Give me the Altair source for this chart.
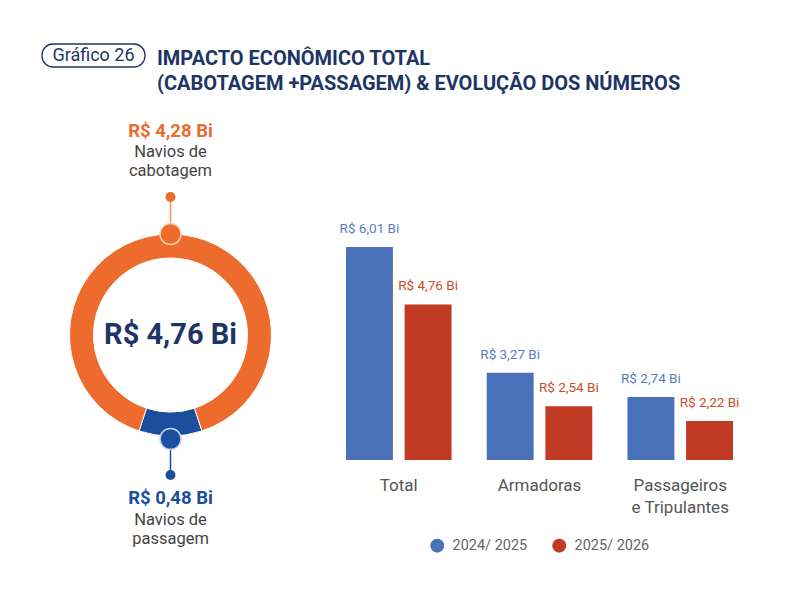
import math
import altair as alt
import pandas as pd

# ---------------- data ----------------
badge_text = ["Gráfico 26"]
title_lines = ["IMPACTO ECONÔMICO TOTAL", "(CABOTAGEM +PASSAGEM) & EVOLUÇÃO DOS NÚMEROS"]

donut_segments = ["Navios de\npassagem", "Navios de\ncabotagem"]
donut_values = [0.48, 4.28]
donut_total = [4.76]

categories = ["Total", "Armadoras", "Passageiros\ne Tripulantes"]
series = ["2024/ 2025", "2025/ 2026"]
values_2425 = [6.01, 3.27, 2.74]
values_2526 = [4.76, 2.54, 2.22]


def brl(v):
    return f"R$ {v:.2f} Bi".replace(".", ",")


FONT = "Roboto"
NAVY = "#1d3566"
ORANGE = "#ec6b2d"
DBLUE = "#1b4f9e"
BAR_BLUE = "#4a72b8"
BAR_RED = "#c03a24"
LBL_BLUE = "#5a7cc0"
LBL_RED = "#d04a2a"
GRAY = "#555555"

donut_df = pd.DataFrame({
    "segment": donut_segments,
    "value": donut_values,
    "idx": [0, 1],
    "label": [brl(v) for v in donut_values],
})
total_df = pd.DataFrame({"label": [brl(v) for v in donut_total]})

rows = []
for ci, c in enumerate(categories):
    for s, vals in zip(series, [values_2425, values_2526]):
        rows.append({"category": c, "series": s, "value": vals[ci], "label": brl(vals[ci])})
bar_df = pd.DataFrame(rows)
cat_df = pd.DataFrame({"category": categories})

# ---------------- donut ----------------
CX, CY = 162.5, 327
blue_share = donut_values[0] / sum(donut_values)
start = math.pi - blue_share * math.pi

donut = alt.Chart(donut_df).mark_arc(
    x=CX, y=CY, innerRadius=77, outerRadius=101, stroke="white", strokeWidth=1
).encode(
    theta=alt.Theta("value:Q", stack=True, scale=alt.Scale(range=[start, start + 2 * math.pi])),
    order=alt.Order("idx:Q"),
    color=alt.Color("idx:N", scale=alt.Scale(domain=[0, 1], range=[DBLUE, ORANGE]), legend=None),
)

center_txt = alt.Chart(total_df).mark_text(
    x=CX, y=CY, font=FONT, fontSize=29, fontWeight="bold", color=NAVY, baseline="middle"
).encode(text="label:N")

top = alt.Chart(donut_df).transform_filter(alt.datum.idx == 1)
bot = alt.Chart(donut_df).transform_filter(alt.datum.idx == 0)

top_rule = top.mark_rule(color="#f09060", strokeWidth=1.5).encode(
    x=alt.value(CX), y=alt.value(190), y2=alt.value(217))
top_big = top.mark_point(x=CX, y=226, shape="circle", filled=True, size=441,
                         stroke="#fbd3b3", strokeWidth=1.5, opacity=1).encode(color=alt.value(ORANGE))
top_small = top.mark_point(x=CX, y=189, shape="circle", filled=True, size=100, opacity=1,
                           strokeWidth=0).encode(color=alt.value(ORANGE))
top_val = top.mark_text(x=CX, y=123, font=FONT, fontSize=18.5, fontWeight="bold",
                        color=ORANGE, baseline="middle").encode(text="label:N")
top_name = top.mark_text(x=CX, y=144, font=FONT, fontSize=16.5, color="#444444",
                         baseline="middle", lineBreak="\n", lineHeight=19).encode(text="segment:N")

bot_rule = bot.mark_rule(color=DBLUE, strokeWidth=1.5).encode(
    x=alt.value(CX), y=alt.value(441), y2=alt.value(466))
bot_big = bot.mark_point(x=CX, y=431, shape="circle", filled=True, size=441,
                         stroke="#c9d5ec", strokeWidth=1.5, opacity=1).encode(color=alt.value(DBLUE))
bot_small = bot.mark_point(x=CX, y=467, shape="circle", filled=True, size=100, opacity=1,
                           strokeWidth=0).encode(color=alt.value(DBLUE))
bot_val = bot.mark_text(x=CX, y=490, font=FONT, fontSize=18.5, fontWeight="bold",
                        color=DBLUE, baseline="middle").encode(text="label:N")
bot_name = bot.mark_text(x=CX, y=512, font=FONT, fontSize=16.5, color="#444444",
                         baseline="middle", lineBreak="\n", lineHeight=19).encode(text="segment:N")

# ---------------- title ----------------
badge_df = pd.DataFrame({"t": badge_text})
badge_box = alt.Chart(badge_df).mark_rect(
    fill="white", stroke=NAVY, strokeWidth=1.3, cornerRadius=11
).encode(x=alt.value(34), x2=alt.value(137), y=alt.value(36), y2=alt.value(59))
badge_txt = alt.Chart(badge_df).mark_text(
    x=85.5, y=48, font=FONT, fontSize=18, color=NAVY, baseline="middle"
).encode(text="t:N")
t1 = alt.Chart(pd.DataFrame({"t": [title_lines[0]]})).mark_text(
    x=149, y=57, align="left", baseline="alphabetic", font=FONT, fontSize=20,
    fontWeight="bold", color=NAVY).encode(text="t:N")
t2 = alt.Chart(pd.DataFrame({"t": [title_lines[1]]})).mark_text(
    x=149, y=82, align="left", baseline="alphabetic", font=FONT, fontSize=20,
    fontWeight="bold", color=NAVY).encode(text="t:N")

# ---------------- bars ----------------
xscale = alt.Scale(domain=categories, range=[338, 725], paddingInner=0.25, paddingOuter=0)
yscale = alt.Scale(domain=[1.37, 6.01], range=[452, 239], zero=False, nice=False)
Y0 = 1.37
xoff = alt.XOffset("series:N", scale=alt.Scale(domain=series, paddingInner=0.2, paddingOuter=0))

bars = alt.Chart(bar_df).mark_bar().encode(
    x=alt.X("category:N", scale=xscale, axis=None, sort=categories),
    xOffset=xoff,
    y=alt.Y("value:Q", scale=yscale, axis=None),
    y2=alt.datum(Y0),
    color=alt.Color(
        "series:N",
        scale=alt.Scale(domain=series, range=[BAR_BLUE, BAR_RED]),
        legend=alt.Legend(
            title=None, orient="none", legendX=422, legendY=530, direction="horizontal",
            symbolType="circle", symbolSize=196, symbolStrokeWidth=0, labelFont=FONT,
            labelFontSize=14.5, labelColor="#666666", labelOffset=8, columnPadding=24,
            padding=0,
        ),
    ),
)


def bar_labels(s, col):
    return alt.Chart(bar_df).transform_filter(alt.datum.series == s).mark_text(
        font=FONT, fontSize=13.5, color=col, baseline="bottom", dy=-11
    ).encode(
        x=alt.X("category:N", scale=xscale, axis=None, sort=categories),
        xOffset=xoff,
        y=alt.Y("value:Q", scale=yscale, axis=None),
        text="label:N",
    )


cat_labels = alt.Chart(cat_df).mark_text(
    font=FONT, fontSize=17, color=GRAY, baseline="middle", lineBreak="\n", lineHeight=21.5
).encode(
    x=alt.X("category:N", scale=xscale, axis=None, sort=categories),
    y=alt.value(478),
    text="category:N",
)

chart = alt.layer(
    badge_box, badge_txt, t1, t2,
    donut, center_txt,
    top_rule, top_big, top_small, top_val, top_name,
    bot_rule, bot_big, bot_small, bot_val, bot_name,
    bars, bar_labels(series[0], LBL_BLUE), bar_labels(series[1], LBL_RED), cat_labels,
).resolve_scale(color="independent").properties(
    width=784, height=584, autosize=alt.AutoSizeParams(type="none"), padding=0,
    background="white",
).configure_view(stroke=None)

chart.save("out.html", embed_options={"renderer": "svg", "actions": False})
